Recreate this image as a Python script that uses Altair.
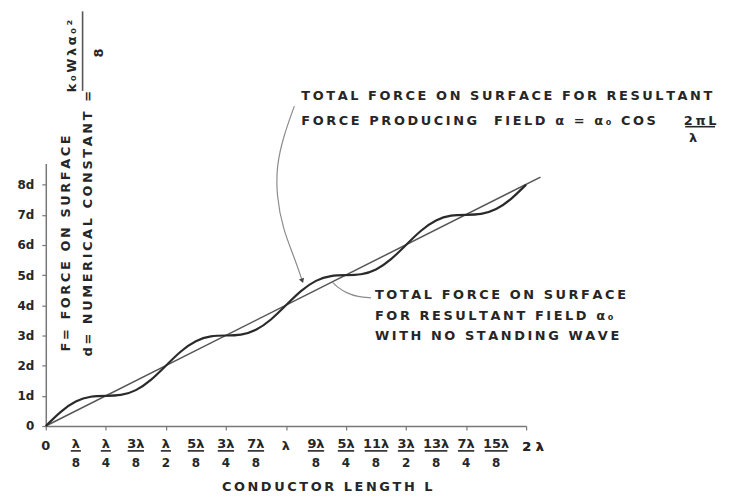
import altair as alt
import pandas as pd

# ---- data (x in units of lambda, y in units of d) ----
wave_x = [0, 0.0625, 0.125, 0.1875, 0.25, 0.3125, 0.375, 0.4375, 0.5, 0.5625, 0.625,
          0.6875, 0.75, 0.8125, 0.875, 0.9375, 1.0, 1.0625, 1.125, 1.1875, 1.25, 1.3125,
          1.375, 1.4375, 1.5, 1.5625, 1.625, 1.6875, 1.75, 1.8125, 1.875, 1.9375, 2.0]
wave_y = [0, 0.47, 0.81, 0.97, 1.0, 1.03, 1.19, 1.53, 2.0, 2.47, 2.81, 2.97, 3.0, 3.03,
          3.19, 3.53, 4.0, 4.47, 4.81, 4.97, 5.0, 5.03, 5.19, 5.53, 6.0, 6.47, 6.81, 6.97,
          7.0, 7.03, 7.19, 7.53, 8.0]

line_x = [0, 2.06]
line_y = [0, 8.25]

y_ticks = [0, 1, 2, 3, 4, 5, 6, 7, 8]
x_ticks = [0, 0.125, 0.25, 0.375, 0.5, 0.625, 0.75, 0.875, 1.0, 1.125, 1.25, 1.375,
           1.5, 1.625, 1.75, 1.875, 2.0]

frac_pos = [0.125, 0.25, 0.375, 0.5, 0.625, 0.75, 0.875, 1.125, 1.25, 1.375, 1.5,
            1.625, 1.75, 1.875]
frac_num = ["λ", "λ", "3λ", "λ", "5λ", "3λ", "7λ", "9λ", "5λ", "11λ", "3λ", "13λ", "7λ", "15λ"]
frac_den = ["8", "4", "8", "2", "8", "4", "8", "8", "4", "8", "2", "8", "4", "8"]

single_pos = [0, 1.0]
single_lab = ["0", "λ"]

# annotation arrow paths (in data units)
arrow1_x = [1.035, 0.990, 0.961, 0.961, 0.986, 1.039, 1.068]
arrow1_y = [10.60, 9.61, 8.63, 7.64, 6.55, 5.50, 4.81]
arrow2_x = [1.354, 1.300, 1.251, 1.213, 1.193]
arrow2_y = [4.247, 4.28, 4.41, 4.61, 4.77]

FONT = "DejaVu Sans"
INK = "#262626"
THIN = "\u2009"


def sp(s):
    """Hand-lettered look: widen the spacing between letters."""
    if isinstance(s, list):
        return [THIN.join(x) for x in s]
    return THIN.join(s)


wave_df = pd.DataFrame({"x": wave_x, "y": wave_y})
line_df = pd.DataFrame({"x": line_x, "y": line_y})
frac_df = pd.DataFrame({"pos": frac_pos, "num": frac_num, "den": frac_den})
single_df = pd.DataFrame({"pos": single_pos, "lab": single_lab})
a1_df = pd.DataFrame({"x": arrow1_x, "y": arrow1_y, "o": list(range(len(arrow1_x)))})
a2_df = pd.DataFrame({"x": arrow2_x, "y": arrow2_y, "o": list(range(len(arrow2_x)))})

xscale = alt.Scale(domain=[0, 2], nice=False, zero=False)
yscale = alt.Scale(domain=[0, 8.7], nice=False, zero=False)

x_axis = alt.Axis(values=x_ticks, labels=False, title=None, grid=False, tickSize=4,
                  domainColor="#777", tickColor="#777", domainWidth=1.5, tickWidth=1.2)
y_axis = alt.Axis(values=y_ticks, title=None, grid=False, tickSize=4,
                  labelExpr="datum.value == 0 ? '0' : datum.value + 'd'",
                  labelOverlap=False,
                  labelFont=FONT, labelFontSize=12, labelFontWeight="bold",
                  labelColor=INK, labelPadding=8,
                  domainColor="#777", tickColor="#777", domainWidth=1.5, tickWidth=1.2)


def X(f):
    return alt.X(f, type="quantitative", scale=xscale, axis=x_axis)


def Y(f):
    return alt.Y(f, type="quantitative", scale=yscale, axis=y_axis)


straight = alt.Chart(line_df).mark_line(color="#555555", strokeWidth=1.5).encode(
    x=X("x"), y=Y("y"))

wave = alt.Chart(wave_df).mark_line(interpolate="natural", color="#2a2a2a",
                                    strokeWidth=2.2).encode(x=X("x"), y=Y("y"))

arrow1 = alt.Chart(a1_df).mark_line(interpolate="basis", color="#8c8c8c",
                                    strokeWidth=1.2).encode(
    x=X("x"), y=Y("y"), order="o:Q")
arrow1_head = alt.Chart(a1_df).transform_filter("datum.o == 6").mark_point(
    shape="triangle-down", filled=True, color="#444", size=30, angle=340, opacity=1
).encode(x=X("x"), y=Y("y"))
arrow2 = alt.Chart(a2_df).mark_line(interpolate="basis", color="#8c8c8c",
                                    strokeWidth=1.2).encode(
    x=X("x"), y=Y("y"), order="o:Q")

txt = dict(font=FONT, fontWeight="bold", color=INK)

num_t = alt.Chart(frac_df).mark_text(fontSize=13, baseline="middle", **txt).encode(
    x=X("pos"), y=alt.value(282), text="num:N")
den_t = alt.Chart(frac_df).mark_text(fontSize=12, baseline="middle", **txt).encode(
    x=X("pos"), y=alt.value(301), text="den:N")
bars = alt.Chart(frac_df).transform_calculate(
    hw="length(datum.num) * 0.013 + 0.008",
    x1="datum.pos - datum.hw", x2="datum.pos + datum.hw"
).mark_rule(color=INK, strokeWidth=1.6).encode(
    x=X("x1"), x2="x2:Q", y=alt.value(289))
singles = alt.Chart(single_df).mark_text(fontSize=13, baseline="middle", **txt).encode(
    x=X("pos"), y=alt.value(284), text="lab:N")
two_l = alt.Chart(single_df).mark_text(fontSize=13, baseline="middle", dx=7, **txt).encode(
    x=alt.datum(2.0), y=alt.value(285), text=alt.value("2 λ"))


def label(s, x, y, size=13, align="left", angle=0, baseline="middle", lh=None):
    kw = dict(fontSize=size, align=align, baseline=baseline, **txt)
    if angle:
        kw["angle"] = angle
    if lh:
        kw["lineHeight"] = lh
    return alt.Chart().mark_text(**kw).encode(
        x=alt.value(x), y=alt.value(y), text=alt.value(s))


ann1 = label(sp(["TOTAL FORCE ON SURFACE FOR RESULTANT",
                 "FORCE PRODUCING  FIELD α = α₀ COS"]), 257, -68, lh=25)
ann1_num = label(sp("2πL"), 658, -43, align="center")
ann1_bar = alt.Chart().mark_rule(color=INK, strokeWidth=1.6).encode(
    x=alt.value(643), x2=alt.value(673), y=alt.value(-37))
ann1_den = label("λ", 651, -26, align="center")

ann2 = label(sp(["TOTAL FORCE ON SURFACE",
                 "FOR RESULTANT FIELD α₀",
                 "WITH NO STANDING WAVE"]), 331, 132, lh=21)

ytitle1 = label(sp("F= FORCE ON SURFACE"), 20, 189, angle=270)
ytitle2 = label(sp("d= NUMERICAL CONSTANT ="), 42, 194, angle=270)
ynum = label(sp("k₀Wλα₀²"), 26, -108, align="center", angle=270)
ybar = alt.Chart().mark_rule(color="#555", strokeWidth=1.6).encode(
    x=alt.value(37), y=alt.value(-153), y2=alt.value(-73))
yden = label("8", 54, -111, align="center", angle=270)

xtitle = label(sp("CONDUCTOR LENGTH L"), 283, 325, align="center")

chart = alt.layer(
    straight, wave, arrow1, arrow1_head, arrow2,
    num_t, den_t, bars, singles, two_l,
    ann1, ann1_num, ann1_bar, ann1_den, ann2,
    ytitle1, ytitle2, ynum, ybar, yden, xtitle,
).properties(
    width=483, height=264,
    padding={"left": 38, "top": 155, "right": 200, "bottom": 67},
    autosize=alt.AutoSizeParams(type="none"),
    background="white",
).configure_view(stroke=None)

chart.save("out.html", embed_options={"renderer": "svg", "actions": False})
